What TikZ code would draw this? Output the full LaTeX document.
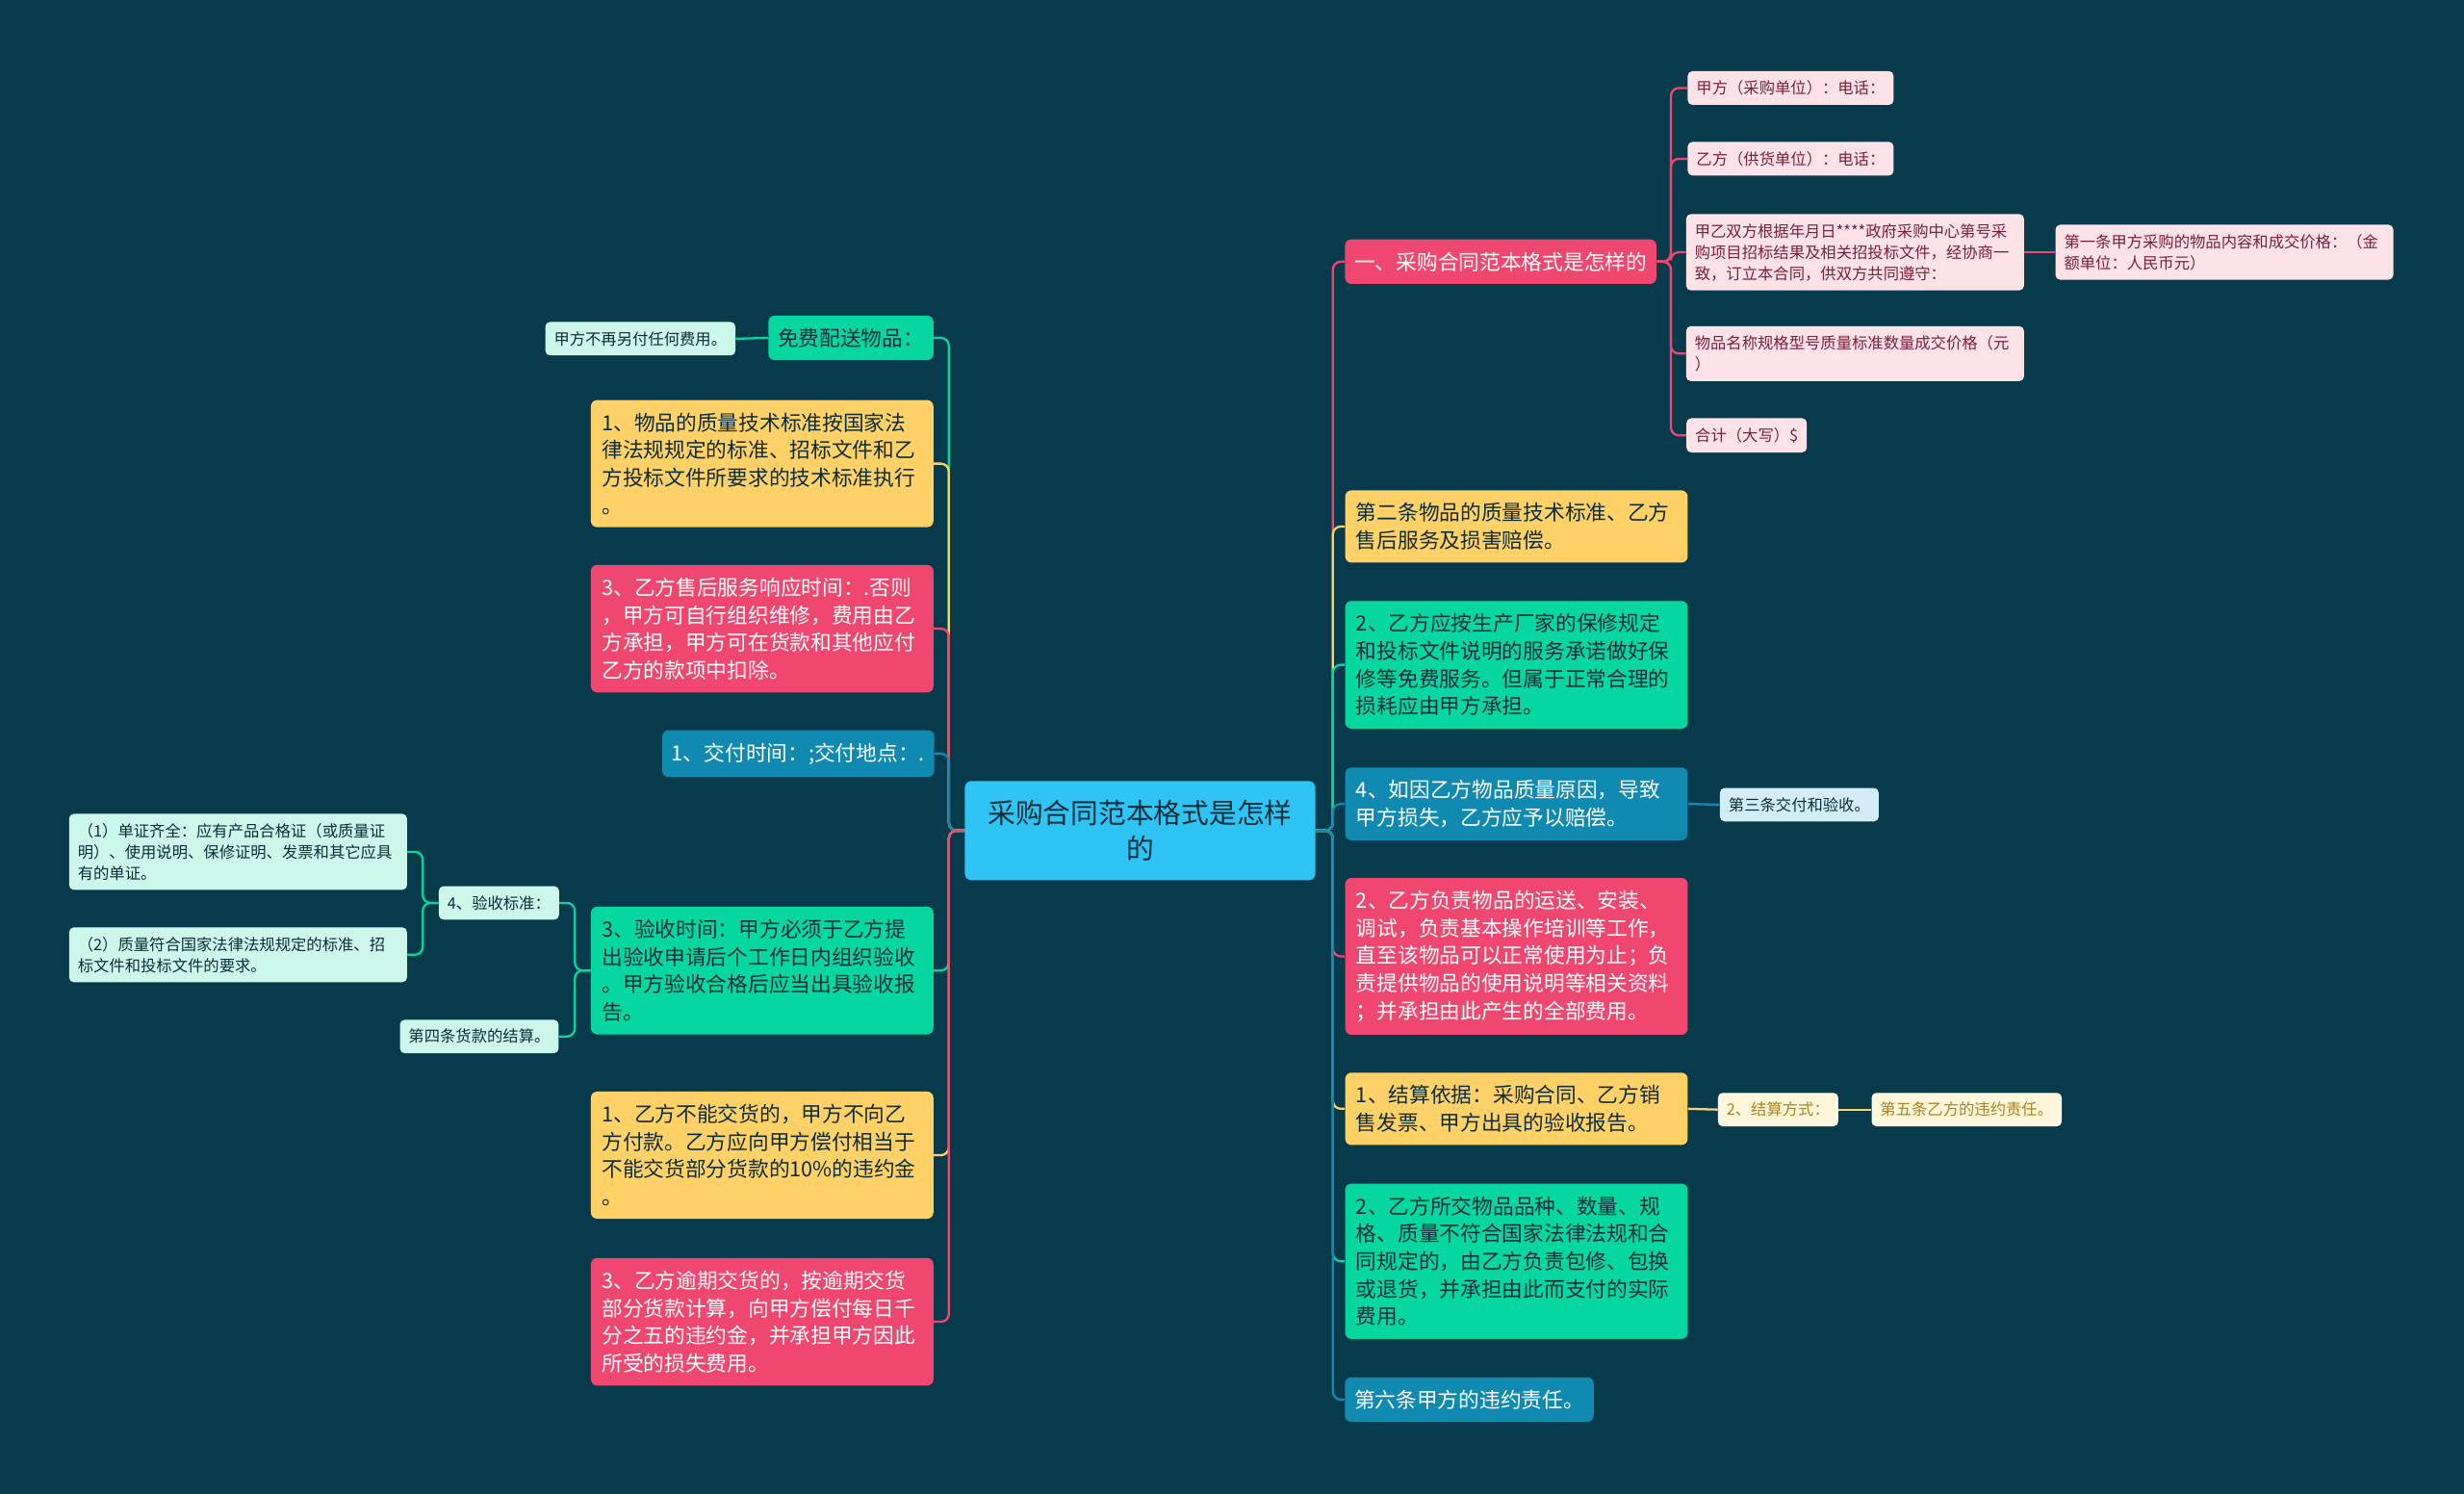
\documentclass[tikz,border=0pt]{standalone}
\usepackage{fontspec}
\setmainfont{Noto Sans CJK SC}
\definecolor{bgdark}{HTML}{073B4C}
\definecolor{mapred}{HTML}{EF476F}
\definecolor{mapyellow}{HTML}{FFD166}
\definecolor{mapgreen}{HTML}{06D6A0}
\definecolor{mapblue}{HTML}{118AB2}
\definecolor{mapsky}{HTML}{2EC4F3}
\definecolor{palered}{HTML}{FDE2E8}
\definecolor{paleyellow}{HTML}{FFF6DB}
\definecolor{palegreen}{HTML}{CDF7EB}
\definecolor{paleblue}{HTML}{D2EDF5}
\definecolor{inkdark}{HTML}{0B2E3A}
\definecolor{inkred}{HTML}{7B1F3A}
\definecolor{inkgold}{HTML}{A7841E}
\usepackage{tikz}

\begin{document}
\begin{tikzpicture}[x=1pt, y=-1pt,
    main/.style={rounded corners=4pt, text width=204pt, inner xsep=7pt, inner ysep=8pt, align=left, font=\fontsize{13.3}{17.6}\selectfont},
    tag/.style={rounded corners=4pt, inner xsep=6pt, inner ysep=8pt, font=\fontsize{13.3}{17.6}\selectfont},
    leaf/.style={rounded corners=3pt, inner xsep=5.5pt, inner ysep=6pt, font=\fontsize{10}{13.5}\selectfont},
    wideleaf/.style={leaf, text width=204pt, align=left},
    link/.style={line width=1.4pt, rounded corners=5pt}
]
\useasboundingbox (0,0) rectangle (1568,950);
\fill[bgdark] (-3,-3) rectangle (1571,953);

% centre
\node[rounded corners=4pt, fill=mapsky, text=inkdark, minimum width=223pt, minimum height=63pt, align=center, font=\fontsize{17.6}{23}\selectfont] (root) at (725.5,528.5) {采购合同范本格式是怎样\\的};

% right side
\node[tag, fill=mapred, text=white] (r1) at (955,166.5) {一、采购合同范本格式是怎样的};
\node[main, fill=mapyellow, text=inkdark] (r2) at (965,335) {第二条物品的质量技术标准、乙方\\售后服务及损害赔偿。};
\node[main, fill=mapgreen, text=inkdark] (r3) at (965,423) {2、乙方应按生产厂家的保修规定\\和投标文件说明的服务承诺做好保\\修等免费服务。但属于正常合理的\\损耗应由甲方承担。};
\node[main, fill=mapblue, text=white] (r4) at (965,511.5) {4、如因乙方物品质量原因，导致\\甲方损失，乙方应予以赔偿。};
\node[main, fill=mapred, text=white] (r5) at (965,608.5) {2、乙方负责物品的运送、安装、\\调试，负责基本操作培训等工作，\\直至该物品可以正常使用为止；负\\责提供物品的使用说明等相关资料\\；并承担由此产生的全部费用。};
\node[main, fill=mapyellow, text=inkdark] (r6) at (965,705.5) {1、结算依据：采购合同、乙方销\\售发票、甲方出具的验收报告。};
\node[main, fill=mapgreen, text=inkdark] (r7) at (965,802.5) {2、乙方所交物品品种、数量、规\\格、质量不符合国家法律法规和合\\同规定的，由乙方负责包修、包换\\或退货，并承担由此而支付的实际\\费用。};
\node[tag, fill=mapblue, text=white] (r8) at (935,890.5) {第六条甲方的违约责任。};

% leaves of r1
\node[leaf, fill=palered, text=inkred] (p1) at (1139.5,56) {甲方（采购单位）：电话：};
\node[leaf, fill=palered, text=inkred] (p2) at (1139.5,101) {乙方（供货单位）：电话：};
\node[wideleaf, fill=palered, text=inkred] (p3) at (1180.5,160.5) {甲乙双方根据年月日****政府采购中心第号采\\购项目招标结果及相关招投标文件，经协商一\\致，订立本合同，供双方共同遵守：};
\node[wideleaf, fill=palered, text=inkred] (p3a) at (1415.5,160.5) {第一条甲方采购的物品内容和成交价格：（金\\额单位：人民币元）};
\node[wideleaf, fill=palered, text=inkred] (p4) at (1180.5,225) {物品名称规格型号质量标准数量成交价格（元\\）};
\node[leaf, fill=palered, text=inkred] (p5) at (1111.5,277) {合计（大写）\$};

% leaves of r4, r6
\node[leaf, fill=paleblue, text=inkdark] (q4) at (1145,512) {第三条交付和验收。};
\node[leaf, fill=paleyellow, text=inkgold] (q6) at (1131.5,706) {2、结算方式：};
\node[leaf, fill=paleyellow, text=inkgold] (q6a) at (1251.5,706) {第五条乙方的违约责任。};

% left side
\node[tag, fill=mapgreen, text=inkdark] (l1) at (541.5,215) {免费配送物品：};
\node[main, fill=mapyellow, text=inkdark] (l2) at (485,295) {1、物品的质量技术标准按国家法\\律法规规定的标准、招标文件和乙\\方投标文件所要求的技术标准执行\\。};
\node[main, fill=mapred, text=white] (l3) at (485,400) {3、乙方售后服务响应时间：.否则\\，甲方可自行组织维修，费用由乙\\方承担，甲方可在货款和其他应付\\乙方的款项中扣除。};
\node[tag, fill=mapblue, text=white] (l4) at (508,479.5) {1、交付时间：;交付地点：.};
\node[main, fill=mapgreen, text=inkdark] (l5) at (485,617.5) {3、验收时间：甲方必须于乙方提\\出验收申请后个工作日内组织验收\\。甲方验收合格后应当出具验收报\\告。};
\node[main, fill=mapyellow, text=inkdark] (l6) at (485,735) {1、乙方不能交货的，甲方不向乙\\方付款。乙方应向甲方偿付相当于\\不能交货部分货款的10\%的违约金\\。};
\node[main, fill=mapred, text=white] (l7) at (485,841) {3、乙方逾期交货的，按逾期交货\\部分货款计算，向甲方偿付每日千\\分之五的违约金，并承担甲方因此\\所受的损失费用。};

% leaves of l1, l5
\node[leaf, fill=palegreen, text=inkdark] (g1) at (407.5,215.5) {甲方不再另付任何费用。};
\node[leaf, fill=palegreen, text=inkdark] (g5) at (317.5,574.5) {4、验收标准：};
\node[wideleaf, fill=palegreen, text=inkdark] (g5a) at (151.5,542) {（1）单证齐全：应有产品合格证（或质量证\\明）、使用说明、保修证明、发票和其它应具\\有的单证。};
\node[wideleaf, fill=palegreen, text=inkdark] (g5b) at (151.5,607.5) {（2）质量符合国家法律法规规定的标准、招\\标文件和投标文件的要求。};
\node[leaf, fill=palegreen, text=inkdark] (g6) at (305,659.5) {第四条货款的结算。};

% links right
\draw[link, mapred] (root.east) -- ++(11,0) |- (r1.west);
\draw[link, mapyellow] (root.east) -- ++(11,0) |- (r2.west);
\draw[link, mapgreen] (root.east) -- ++(11,0) |- (r3.west);
\draw[link, mapblue] (root.east) -- ++(11,0) |- (r4.west);
\draw[link, mapred] (root.east) -- ++(11,0) |- (r5.west);
\draw[link, mapyellow] (root.east) -- ++(11,0) |- (r6.west);
\draw[link, mapgreen] (root.east) -- ++(11,0) |- (r7.west);
\draw[link, mapblue] (root.east) -- ++(11,0) |- (r8.west);
\foreach \p in {p1,p2,p3,p4,p5}
    \draw[link, mapred] (r1.east) -- ++(9,0) |- (\p.west);
\draw[link, mapred] (p3.east) -- (p3a.west);
\draw[link, mapblue] (r4.east) -- (q4.west);
\draw[link, mapyellow] (r6.east) -- (q6.west);
\draw[link, mapyellow] (q6.east) -- (q6a.west);

% links left
\draw[link, mapgreen] (root.west) -- ++(-10,0) |- (l1.east);
\draw[link, mapyellow] (root.west) -- ++(-10,0) |- (l2.east);
\draw[link, mapred] (root.west) -- ++(-10,0) |- (l3.east);
\draw[link, mapblue] (root.west) -- ++(-10,0) |- (l4.east);
\draw[link, mapgreen] (root.west) -- ++(-10,0) |- (l5.east);
\draw[link, mapyellow] (root.west) -- ++(-10,0) |- (l6.east);
\draw[link, mapred] (root.west) -- ++(-10,0) |- (l7.east);
\draw[link, mapgreen] (l1.west) -- (g1.east);
\draw[link, mapgreen] (l5.west) -- ++(-10,0) |- (g5.east);
\draw[link, mapgreen] (l5.west) -- ++(-10,0) |- (g6.east);
\draw[link, mapgreen] (g5.west) -- ++(-10,0) |- (g5a.east);
\draw[link, mapgreen] (g5.west) -- ++(-10,0) |- (g5b.east);
\end{tikzpicture}
\end{document}
